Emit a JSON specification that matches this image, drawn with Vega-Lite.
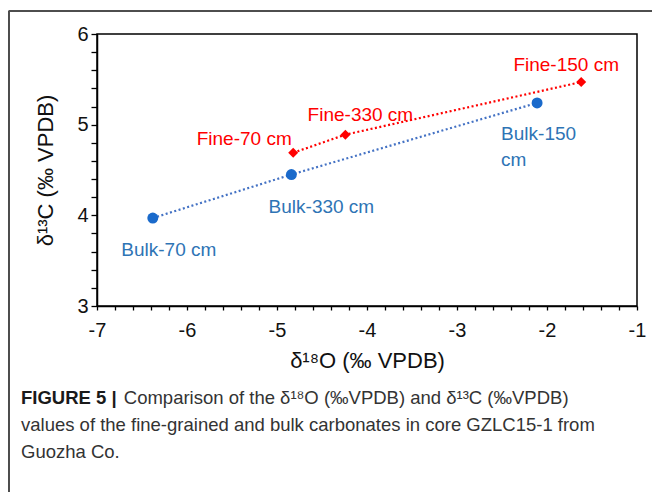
{
  "$schema": "https://vega.github.io/schema/vega-lite/v6.json",
  "width": 540,
  "height": 272,
  "autosize": {"type": "none"},
  "padding": {"left": 97, "top": 34, "right": 15, "bottom": 186},
  "background": "white",
  "config": {
    "view": {"stroke": "black", "strokeWidth": 1.5},
    "font": "Liberation Sans"
  },
  "title": {
    "text": "FIGURE 5 |",
    "subtitle": [
      "\u200b\u00a0\u00a0\u00a0\u00a0\u00a0\u00a0\u00a0\u00a0\u00a0\u00a0\u00a0\u00a0\u00a0\u00a0\u00a0\u00a0\u00a0\u00a0\u00a0\u00a0Comparison of the δ¹⁸O (‰VPDB) and δ¹³C (‰VPDB)",
      "values of the fine-grained and bulk carbonates in core GZLC15-1 from",
      "Guozha Co."
    ],
    "orient": "bottom",
    "anchor": "start",
    "frame": "group",
    "dx": -76,
    "offset": -108,
    "font": "Liberation Sans",
    "fontSize": 18.5,
    "fontWeight": "bold",
    "color": "#1a1a1a",
    "subtitleFont": "Liberation Sans",
    "subtitleFontSize": 18.5,
    "subtitleFontWeight": "normal",
    "subtitleColor": "#333333",
    "subtitleLineHeight": 27,
    "subtitlePadding": -18.5
  },
  "data": {
    "values": [
      {"group": "Fine", "label": "Fine-70 cm", "d18O": -4.82, "d13C": 4.69},
      {"group": "Fine", "label": "Fine-330 cm", "d18O": -4.24, "d13C": 4.89},
      {"group": "Fine", "label": "Fine-150 cm", "d18O": -1.62, "d13C": 5.47},
      {"group": "Bulk", "label": "Bulk-70 cm", "d18O": -6.38, "d13C": 3.97},
      {"group": "Bulk", "label": "Bulk-330 cm", "d18O": -4.84, "d13C": 4.45},
      {"group": "Bulk", "label": "Bulk-150\ncm", "d18O": -2.11, "d13C": 5.24}
    ]
  },
  "encoding": {
    "x": {
      "field": "d18O",
      "type": "quantitative",
      "scale": {"domain": [-7, -1], "nice": false, "zero": false},
      "axis": {
        "title": "δ¹⁸O (‰ VPDB)",
        "values": [-7, -6.8, -6.6, -6.4, -6.2, -6, -5.8, -5.6, -5.4, -5.2, -5, -4.8, -4.6, -4.4, -4.2, -4, -3.8, -3.6, -3.4, -3.2, -3, -2.8, -2.6, -2.4, -2.2, -2, -1.8, -1.6, -1.4, -1.2, -1],
        "labelExpr": "datum.value % 1 === 0 ? '' + datum.value : ''",
        "labelOverlap": false,
        "labelFlush": false,
        "grid": false,
        "domainColor": "black",
        "domainWidth": 1.5,
        "tickColor": "black",
        "tickWidth": 1.3,
        "tickSize": 4,
        "labelPadding": 10,
        "labelFontSize": 20,
        "labelColor": "#111111",
        "titleFontSize": 22,
        "titleFontWeight": "normal",
        "titleColor": "#111111",
        "titlePadding": 10,
        "encode": {"ticks": {"update": {"y2": {"signal": "datum.value % 1 === 0 ? -6 : 4"}}}}
      }
    },
    "y": {
      "field": "d13C",
      "type": "quantitative",
      "scale": {"domain": [3, 6], "nice": false, "zero": false},
      "axis": {
        "title": "δ¹³C (‰ VPDB)",
        "values": [3, 3.2, 3.4, 3.6, 3.8, 4, 4.2, 4.4, 4.6, 4.8, 5, 5.2, 5.4, 5.6, 5.8, 6],
        "labelExpr": "datum.value % 1 === 0 ? '' + datum.value : ''",
        "labelOverlap": false,
        "labelFlush": false,
        "grid": false,
        "domainColor": "black",
        "domainWidth": 1.5,
        "tickColor": "black",
        "tickWidth": 1.3,
        "tickSize": 6,
        "labelPadding": 3,
        "labelFontSize": 20,
        "labelColor": "#111111",
        "titleFontSize": 22,
        "titleFontWeight": "normal",
        "titleColor": "#111111",
        "titlePadding": 19,
        "encode": {"ticks": {"update": {"x2": {"signal": "datum.value % 1 === 0 ? -6 : 5"}}}}
      }
    }
  },
  "layer": [
    {
      "mark": {"type": "rule", "color": "#4d4d4d", "strokeWidth": 1.5},
      "encoding": {
        "x": {"datum": -7.98},
        "y": {"datum": 6.25},
        "y2": {"datum": 0.9}
      }
    },
    {
      "mark": {"type": "rule", "color": "#4d4d4d", "strokeWidth": 1.5},
      "encoding": {
        "x": {"datum": -7.98},
        "x2": {"datum": -0.5},
        "y": {"datum": 6.25}
      }
    },
    {
      "transform": [{"filter": "datum.group === 'Fine'"}],
      "mark": {"type": "line", "color": "#ff0000", "strokeWidth": 2.2, "strokeDash": [2, 2.5]}
    },
    {
      "transform": [{"filter": "datum.group === 'Bulk'"}],
      "mark": {"type": "line", "color": "#4472c4", "strokeWidth": 2.2, "strokeDash": [2, 2.5]}
    },
    {
      "transform": [{"filter": "datum.group === 'Fine'"}],
      "mark": {"type": "point", "shape": "diamond", "filled": true, "color": "#ff0000", "size": 100, "opacity": 1}
    },
    {
      "transform": [{"filter": "datum.group === 'Bulk'"}],
      "mark": {"type": "point", "shape": "circle", "filled": true, "color": "#1a6acb", "size": 120, "opacity": 1}
    },
    {
      "transform": [{"filter": "datum.label === 'Fine-150 cm'"}],
      "mark": {"type": "text", "color": "#ff0000", "fontSize": 19, "align": "center", "baseline": "middle", "dx": -15, "dy": -17},
      "encoding": {"text": {"field": "label"}}
    },
    {
      "transform": [{"filter": "datum.label === 'Fine-330 cm'"}],
      "mark": {"type": "text", "color": "#ff0000", "fontSize": 19, "align": "center", "baseline": "middle", "dx": 15, "dy": -20},
      "encoding": {"text": {"field": "label"}}
    },
    {
      "transform": [{"filter": "datum.label === 'Fine-70 cm'"}],
      "mark": {"type": "text", "color": "#ff0000", "fontSize": 19, "align": "center", "baseline": "middle", "dx": -49, "dy": -14},
      "encoding": {"text": {"field": "label"}}
    },
    {
      "transform": [{"filter": "datum.label === 'Bulk-330 cm'"}],
      "mark": {"type": "text", "color": "#2e74b5", "fontSize": 19, "align": "center", "baseline": "middle", "dx": 30, "dy": 32},
      "encoding": {"text": {"field": "label"}}
    },
    {
      "transform": [{"filter": "datum.label === 'Bulk-70 cm'"}],
      "mark": {"type": "text", "color": "#2e74b5", "fontSize": 19, "align": "center", "baseline": "middle", "dx": 16, "dy": 32},
      "encoding": {"text": {"field": "label"}}
    },
    {
      "transform": [{"filter": "datum.group === 'Bulk' && datum.d18O > -3"}],
      "mark": {"type": "text", "color": "#2e74b5", "fontSize": 19, "align": "left", "baseline": "alphabetic", "dx": -36, "dy": 37, "lineBreak": "\n", "lineHeight": 26},
      "encoding": {"text": {"field": "label"}}
    }
  ]
}
